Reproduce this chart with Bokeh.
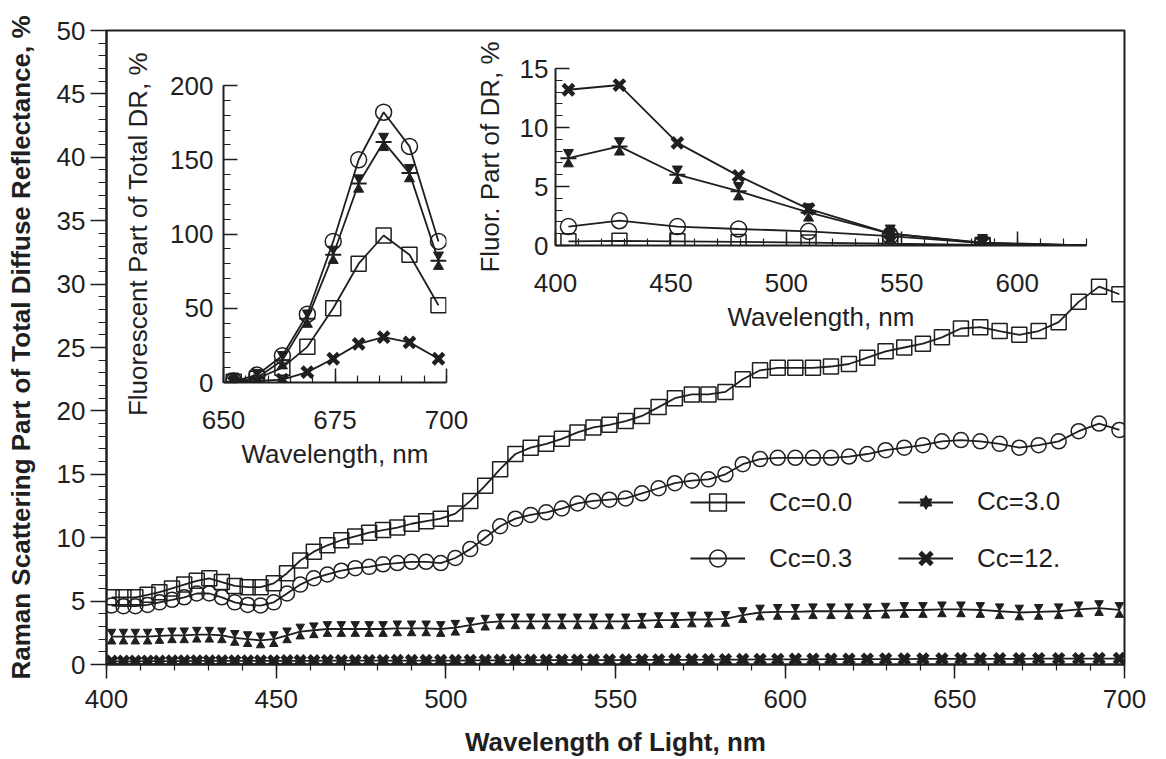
from bokeh.plotting import figure
from bokeh.models import Range1d, SingleIntervalTicker, Legend, LegendItem, ColumnDataSource
from bokeh.transform import dodge
from bokeh.embed import file_html
from bokeh.resources import INLINE

# ---------------- data ----------------
wavelength = [401.5, 405.0, 408.5, 412.1, 415.6, 419.3, 422.9, 426.6, 430.3, 434.0,
              437.8, 441.6, 445.4, 449.3, 453.2, 457.1, 461.1, 465.1, 469.2, 473.3,
              477.4, 481.5, 485.7, 489.9, 494.2, 498.5, 502.8, 507.2, 511.6, 516.0,
              520.5, 525.0, 529.6, 534.2, 538.8, 543.5, 548.2, 553.0, 557.8, 562.7,
              567.5, 572.5, 577.4, 582.4, 587.5, 592.6, 597.8, 603.0, 608.2, 613.5,
              618.8, 624.2, 629.6, 635.1, 640.6, 646.2, 651.8, 657.5, 663.2, 669.0,
              674.7, 680.6, 686.5, 692.5, 698.5]
raman_cc00 = [5.3, 5.3, 5.3, 5.5, 5.7, 6.0, 6.3, 6.6, 6.8, 6.5,
              6.2, 6.1, 6.1, 6.4, 7.2, 8.2, 8.9, 9.4, 9.8, 10.1,
              10.4, 10.6, 10.8, 11.1, 11.3, 11.5, 11.9, 12.9, 14.1, 15.4,
              16.6, 17.1, 17.4, 17.8, 18.3, 18.7, 18.9, 19.2, 19.6, 20.3,
              21.0, 21.3, 21.3, 21.5, 22.5, 23.2, 23.4, 23.4, 23.4, 23.5,
              23.7, 24.2, 24.7, 25.0, 25.3, 25.8, 26.5, 26.6, 26.3, 26.0,
              26.3, 27.0, 28.6, 29.8, 29.2]
raman_cc03 = [4.65, 4.6, 4.6, 4.7, 4.9, 5.1, 5.3, 5.6, 5.6, 5.3,
              4.9, 4.7, 4.65, 4.9, 5.6, 6.3, 6.8, 7.1, 7.4, 7.6,
              7.7, 7.9, 8.0, 8.1, 8.1, 8.0, 8.4, 9.1, 10.0, 10.9,
              11.5, 11.8, 12.0, 12.3, 12.7, 12.9, 13.0, 13.1, 13.5, 13.9,
              14.3, 14.5, 14.6, 15.0, 15.8, 16.2, 16.3, 16.3, 16.3, 16.3,
              16.4, 16.6, 16.9, 17.1, 17.3, 17.6, 17.7, 17.6, 17.4, 17.1,
              17.3, 17.6, 18.4, 19.0, 18.5]
raman_cc30 = [2.2, 2.2, 2.2, 2.2, 2.25, 2.3, 2.3, 2.35, 2.35, 2.3,
              2.1, 2.0, 1.9, 2.0, 2.3, 2.6, 2.7, 2.8, 2.8, 2.8,
              2.8, 2.8, 2.85, 2.85, 2.85, 2.8, 2.9, 3.1, 3.3, 3.4,
              3.4, 3.4, 3.4, 3.4, 3.4, 3.4, 3.4, 3.4, 3.45, 3.5,
              3.5, 3.55, 3.55, 3.6, 3.9, 4.1, 4.15, 4.15, 4.2, 4.2,
              4.2, 4.2, 4.25, 4.3, 4.3, 4.35, 4.35, 4.3, 4.2, 4.1,
              4.15, 4.2, 4.35, 4.45, 4.3]
raman_cc12 = [0.25, 0.25, 0.25, 0.26, 0.26, 0.27, 0.27, 0.28, 0.28, 0.28,
              0.28, 0.28, 0.28, 0.28, 0.29, 0.29, 0.29, 0.30, 0.30, 0.30,
              0.30, 0.30, 0.31, 0.31, 0.31, 0.31, 0.31, 0.32, 0.32, 0.33,
              0.33, 0.33, 0.34, 0.34, 0.34, 0.35, 0.35, 0.35, 0.36, 0.36,
              0.37, 0.37, 0.38, 0.38, 0.39, 0.40, 0.40, 0.41, 0.41, 0.42,
              0.42, 0.42, 0.43, 0.43, 0.44, 0.44, 0.45, 0.45, 0.45, 0.45,
              0.46, 0.46, 0.46, 0.47, 0.47]

# inset 1: fluorescent part of total DR (650-700 nm)
fl_wavelength = [652.3, 657.5, 663.2, 668.8, 674.6, 680.3, 685.9, 691.7, 698.2]
fl_cc00 = [0.5, 2.5, 10, 24, 50, 80, 99, 86, 52]
fl_cc03 = [1, 5, 18, 46, 95, 150, 182, 159, 95]
fl_cc30 = [0.5, 3, 15, 43, 86, 134, 162, 141, 82]
fl_cc12 = [0.3, 1, 2, 7, 16, 26, 30.5, 27, 16]

# inset 2: fluorescent part of DR (400-630 nm); last point has no marker
ex_wavelength = [405.6, 427.7, 452.8, 479.3, 509.6, 545.0, 585.0, 630.0]
ex_cc00 = [0.35, 0.4, 0.35, 0.3, 0.25, 0.15, 0.05, 0.0]
ex_cc03 = [1.6, 2.1, 1.6, 1.4, 1.2, 0.8, 0.2, 0.0]
ex_cc30 = [7.4, 8.4, 6.0, 4.6, 2.8, 1.0, 0.2, 0.0]
ex_cc12 = [13.2, 13.6, 8.7, 5.9, 3.1, 1.0, 0.25, 0.0]

labels = ["Cc=0.0", "Cc=0.3", "Cc=3.0", "Cc=12."]

INK = "#1f1f1f"
FONT = "Liberation Sans"


def draw_series(fig, xs, ys, kind, msize, lw, px_per_unit, n_markers=None, arms=False, xlw=4):
    n = len(xs) if n_markers is None else n_markers
    line = fig.line(xs, ys, line_color=INK, line_width=lw)
    src = ColumnDataSource(dict(x=xs[:n], y=ys[:n]))
    rs = []
    if kind == "square":
        rs.append(fig.scatter("x", "y", source=src, marker="square", size=msize,
                              fill_color=None, line_color=INK, line_width=1.5))
    elif kind == "circle":
        rs.append(fig.scatter("x", "y", source=src, marker="circle", size=msize,
                              fill_color=None, line_color=INK, line_width=1.5))
    elif kind == "star":
        off = (msize / 2.0) * 3 ** 0.5 * 2.0 / 3.0 / px_per_unit
        if arms:
            fig.scatter("x", "y", source=src, marker="dash", size=msize * 1.6,
                        line_color=INK, line_width=2)
        rs.append(fig.scatter("x", dodge("y", off), source=src, marker="inverted_triangle",
                              size=msize, fill_color=INK, line_color=INK, line_width=1))
        rs.append(fig.scatter("x", dodge("y", -off), source=src, marker="triangle",
                              size=msize, fill_color=INK, line_color=INK, line_width=1))
    elif kind == "x":
        rs.append(fig.scatter("x", "y", source=src, marker="x", size=msize,
                              line_color=INK, line_width=xlw))
    return [line] + rs


def style_axes(fig, inward):
    fig.grid.visible = False
    for ax in fig.axis:
        ax.axis_line_color = INK
        ax.axis_line_width = 2
        ax.major_tick_line_color = INK
        ax.minor_tick_line_color = INK
        ax.major_tick_line_width = 1.5
        ax.minor_tick_line_width = 1.2
        ax.major_label_text_font = FONT
        ax.major_label_text_font_size = "26px"
        ax.major_label_text_color = INK
        ax.axis_label_text_font = FONT
        ax.axis_label_text_font_size = "26px"
        ax.axis_label_text_color = INK
        ax.axis_label_text_font_style = "normal"
        if inward:
            ax.major_tick_in = 14
            ax.major_tick_out = 0
            ax.minor_tick_in = 7
            ax.minor_tick_out = 0


def place(left, top):
    return {"position": "absolute", "left": f"{left}px", "top": f"{top}px"}


# ---------------- main figure ----------------
main = figure(width=1160, height=759, x_range=Range1d(400, 700), y_range=Range1d(0, 50),
              output_backend="svg", toolbar_location=None,
              min_border_left=106, min_border_right=36, min_border_top=30, min_border_bottom=95,
              styles=place(0, 0))
style_axes(main, inward=False)
main.outline_line_color = INK
main.outline_line_width = 2
main.xaxis.ticker = SingleIntervalTicker(interval=50, num_minor_ticks=5)
main.yaxis.ticker = SingleIntervalTicker(interval=5, num_minor_ticks=5)
main.xaxis.major_tick_out = 14
main.xaxis.major_tick_in = 0
main.xaxis.minor_tick_out = 6
main.xaxis.minor_tick_in = 0
main.yaxis.major_tick_out = 16
main.yaxis.major_tick_in = 0
main.yaxis.minor_tick_out = 8
main.yaxis.minor_tick_in = 0
main.xaxis.major_label_standoff = 11
main.yaxis.major_label_standoff = 5
main.xaxis.axis_label = "Wavelength of Light, nm"
main.yaxis.axis_label = "Raman Scattering Part of Total Diffuse Reflectance, %"
main.xaxis.axis_label_text_font_style = "bold"
main.yaxis.axis_label_text_font_style = "bold"
main.xaxis.axis_label_standoff = 16
main.yaxis.axis_label_standoff = 18

PPU = 634 / 50.0
r00 = draw_series(main, wavelength, raman_cc00, "square", 15, 1.8, PPU)
r03 = draw_series(main, wavelength, raman_cc03, "circle", 15, 1.8, PPU)
r30 = draw_series(main, wavelength, raman_cc30, "star", 8.5, 1.8, PPU)
r12 = draw_series(main, wavelength, raman_cc12, "x", 14, 1.8, PPU, xlw=5)


def add_legend(label, renderers, vx, vy, gh):
    lg = Legend(items=[LegendItem(label=label, renderers=renderers)], location=(vx, vy),
                glyph_width=55, glyph_height=gh, label_standoff=24, padding=0, margin=0,
                spacing=0, border_line_color=None, background_fill_alpha=0,
                label_text_font=FONT, label_text_font_size="26px", label_text_color=INK)
    main.add_layout(lg)


add_legend(labels[0], r00, 584, 141, 42)
add_legend(labels[1], r03, 584, 85, 42)
add_legend(labels[2], r30, 792, 147, 30)
add_legend(labels[3], r12, 792, 85, 42)

# ---------------- inset 1 ----------------
ins1 = figure(width=380, height=450, x_range=Range1d(650, 700), y_range=Range1d(0, 200),
              output_backend="svg", toolbar_location=None,
              min_border_left=123, min_border_right=34, min_border_top=55, min_border_bottom=98,
              background_fill_color=None, border_fill_color=None,
              styles=place(100, 30))
style_axes(ins1, inward=True)
ins1.outline_line_color = None
ins1.xaxis.ticker = SingleIntervalTicker(interval=25, num_minor_ticks=5)
ins1.yaxis.ticker = SingleIntervalTicker(interval=50, num_minor_ticks=5)
ins1.xaxis.major_label_standoff = 28
ins1.yaxis.major_label_standoff = 10
ins1.xaxis.axis_label = "Wavelength, nm"
ins1.yaxis.axis_label = "Fluorescent Part of Total DR, %"
ins1.xaxis.axis_label_standoff = 7
ins1.yaxis.axis_label_standoff = 14
P1 = 297 / 200.0
draw_series(ins1, fl_wavelength, fl_cc00, "square", 15, 1.8, P1)
draw_series(ins1, fl_wavelength, fl_cc03, "circle", 16, 1.8, P1)
draw_series(ins1, fl_wavelength, fl_cc30, "star", 10, 1.8, P1, arms=True)
draw_series(ins1, fl_wavelength, fl_cc12, "x", 15, 1.8, P1, xlw=4.5)

# ---------------- inset 2 ----------------
ins2 = figure(width=680, height=320, x_range=Range1d(400, 630), y_range=Range1d(0, 15),
              output_backend="svg", toolbar_location=None,
              min_border_left=115, min_border_right=34, min_border_top=48, min_border_bottom=95,
              background_fill_color=None, border_fill_color=None,
              styles=place(440, 20))
style_axes(ins2, inward=True)
ins2.outline_line_color = None
ins2.xaxis.ticker = SingleIntervalTicker(interval=50, num_minor_ticks=5)
ins2.yaxis.ticker = SingleIntervalTicker(interval=5, num_minor_ticks=5)
ins2.xaxis.major_label_standoff = 28
ins2.yaxis.major_label_standoff = 7
ins2.xaxis.axis_label = "Wavelength, nm"
ins2.yaxis.axis_label = "Fluor. Part of DR, %"
ins2.xaxis.axis_label_standoff = 7
ins2.yaxis.axis_label_standoff = 12
P2 = 177 / 15.0
nm = len(ex_wavelength) - 1
draw_series(ins2, ex_wavelength, ex_cc00, "square", 15, 1.8, P2, n_markers=nm)
draw_series(ins2, ex_wavelength, ex_cc03, "circle", 16, 1.8, P2, n_markers=nm)
draw_series(ins2, ex_wavelength, ex_cc30, "star", 10, 1.8, P2, n_markers=nm, arms=True)
draw_series(ins2, ex_wavelength, ex_cc12, "x", 15, 1.8, P2, n_markers=nm, xlw=4.5)

open("out.html", "w").write(file_html([main, ins1, ins2], INLINE))
